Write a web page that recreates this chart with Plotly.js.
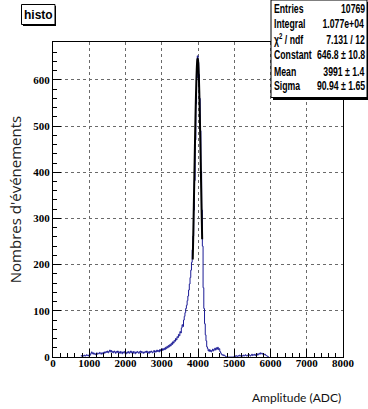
<!DOCTYPE html>
<html>
<head>
<meta charset="utf-8">
<script src="https://cdn.plot.ly/plotly-3.0.1.min.js"></script>
<style>html,body{margin:0;padding:0;background:#fff;}#chart{width:368px;height:409px;}</style>
</head>
<body>
<div id="chart"></div>
<script>
// Histogram: bin width 20 ADC, first bin lower edge 760
const binStart = 760;
const binWidth = 20;
const counts = [
  2,3,1,3,2,4,2,3,5,3,4,2,5,4,8,11,7,9,6,8,            // 760-1140
  5,7,9,6,8,7,10,8,6,9,7,10,8,11,9,12,10,13,9,12,      // 1160-1540
  15,11,14,10,12,9,13,11,8,12,10,13,9,11,8,12,10,7,11,9, // 1560-1940
  12,8,10,7,11,9,12,8,10,13,9,11,8,12,10,7,11,9,12,10, // 1960-2340
  8,11,13,9,12,10,8,11,9,12,10,13,9,11,8,12,10,13,11,9, // 2360-2740
  12,14,10,13,11,15,12,14,11,16,13,17,14,18,15,19,16,21,18,23, // 2760-3140
  20,25,22,27,24,30,27,33,30,36,34,40,37,44,42,49,46,55,52,63, // 3160-3540
  70,66,80,88,96,105,112,122,132,145,158,172,188,205,232,262,318,382,470,548, // 3560-3940
  604,652,638,612,560,490,402,318,240,150,105,72,48,35,22,18,13,16,12,15, // 3960-4340
  11,14,17,13,16,19,15,20,17,21,16,18,12,9,6,4,5,3,4,2, // 4360-4740
  1,0,0,0,0,0,0,0,0,0,0,0,2,1,3,2,1,3,2,4,             // 4760-5140
  2,3,1,3,4,2,3,5,3,2,4,3,5,4,2,4,6,3,5,4,             // 5160-5540
  6,3,5,7,4,6,8,6,9,7,8,6,7,5,6,4,3,2,1,0              // 5560-5940
];
const fitX = [3855,3865,3875,3885,3895,3905,3915,3925,3935,3945,3955,3965,3975,3985,3995,4005,4015,4025,4035,4045,4055,4065,4075,4085,4095,4105,4115];
const fitY = [211,248,287,328,371,414,456,497,535,569,598,621,637,645,646,639,625,603,575,542,505,465,422,379,336,295,255];

const xTicks = [0,1000,2000,3000,4000,5000,6000,7000,8000];
const yTicks = [0,100,200,300,400,500,600];
const statLabels = ["Entries","Integral","\u03c7<sup>2</sup> / ndf","Constant","Mean","Sigma"];
const statValues = ["10769","1.077e+04","7.131 / 12","646.8 \u00b1 10.8","3991 \u00b1 1.4","90.94 \u00b1 1.65"];

const binCenters = counts.map((c,i)=>binStart + binWidth*i + binWidth/2);

const hist = {
  x: binCenters, y: counts, type:'scatter', mode:'lines',
  line:{shape:'hvh', color:'#1c1c96', width:1}, hoverinfo:'skip', showlegend:false
};
const fit = {
  x: fitX, y: fitY, type:'scatter', mode:'lines',
  line:{shape:'spline', color:'#000000', width:2}, hoverinfo:'skip', showlegend:false
};

const tickFont = {family:'"Liberation Serif", "Times New Roman", serif', size:11, color:'#000', weight:'bold'};
const statFont = {family:'"Liberation Sans", Arial, sans-serif', size:13, color:'#000', weight:'bold'};

// plot-area geometry in paper units
const L = 53, R = 343, T = 42, B = 357;
const px = v => (v - L)/(R - L);
const py = v => (B - v)/(B - T);

const annotations = [];
const squeezeIdx = [];
const rowY = [9, 24, 39, 55, 71, 86];
statLabels.forEach((s,i)=>{
  squeezeIdx.push(annotations.length);
  annotations.push({xref:'paper', yref:'paper', x:px(273), y:py(rowY[i]), xanchor:'left', yanchor:'middle', align:'left',
    text:s, showarrow:false, font:statFont, borderpad:0});
  squeezeIdx.push(annotations.length);
  annotations.push({xref:'paper', yref:'paper', x:px(366), y:py(rowY[i]), xanchor:'right', yanchor:'middle', align:'right',
    text:statValues[i], showarrow:false, font:statFont, borderpad:0});
});
annotations.push({xref:'paper', yref:'paper', x:px(38.5), y:py(15), xanchor:'center', yanchor:'middle',
  text:'histo', showarrow:false, font:{family:'"Liberation Sans", Arial, sans-serif', size:12, color:'#000', weight:'bold'}});
annotations.push({xref:'paper', yref:'paper', x:1, y:py(397), xanchor:'right', yanchor:'middle',
  text:'Amplitude (ADC)', showarrow:false, font:{family:'Lato, "Open Sans", sans-serif', size:12, color:'#111'}});

const shapes = [
  // stats box shadow + box
  {type:'rect', xref:'paper', yref:'paper', x0:px(273), x1:px(369), y0:py(100), y1:py(2), fillcolor:'#000', line:{width:0}},
  {type:'rect', xref:'paper', yref:'paper', x0:px(271), x1:px(367), y0:py(97.5), y1:py(0), fillcolor:'#fff', line:{color:'#000', width:1}},
  // title box shadow + box
  {type:'rect', xref:'paper', yref:'paper', x0:px(23), x1:px(56), y0:py(26), y1:py(6), fillcolor:'#000', line:{width:0}},
  {type:'rect', xref:'paper', yref:'paper', x0:px(21.5), x1:px(55), y0:py(24.5), y1:py(4.5), fillcolor:'#fff', line:{color:'#000', width:1}}
];

const layout = {
  width:368, height:409,
  margin:{l:L, r:368-R, t:T, b:409-B, pad:0},
  paper_bgcolor:'#fff', plot_bgcolor:'#fff',
  showlegend:false,
  xaxis:{
    range:[0,8000], tickvals:xTicks, ticktext:xTicks.map(String),
    ticks:'inside', ticklen:8, tickcolor:'#000', tickwidth:1,
    showline:true, mirror:true, linecolor:'#000', linewidth:1,
    showgrid:true, gridcolor:'#6a6a6a', griddash:'dot', gridwidth:1,
    zeroline:false, tickfont:tickFont, ticklabelstandoff:-4,
    minor:{dtick:200, ticks:'inside', ticklen:4, tickcolor:'#000', showgrid:false}
  },
  yaxis:{
    range:[0,682], tickvals:yTicks, ticktext:yTicks.map(String),
    ticks:'inside', ticklen:8, tickcolor:'#000', tickwidth:1,
    showline:true, mirror:true, linecolor:'#000', linewidth:1,
    showgrid:true, gridcolor:'#6a6a6a', griddash:'dot', gridwidth:1,
    zeroline:false, tickfont:tickFont,
    minor:{dtick:20, ticks:'inside', ticklen:4, tickcolor:'#000', showgrid:false},
    title:{text:"Nombres d'événements", font:{family:'"Open Sans", sans-serif', size:15, color:'#222'}, standoff:8}
  },
  annotations:annotations,
  shapes:shapes
};

Plotly.newPlot('chart', [hist, fit], layout, {staticPlot:true, displayModeBar:false}).then(()=>{
  const s = 0.67;
  squeezeIdx.forEach(i=>{
    const t = document.querySelector('g.annotation[data-index="'+i+'"] text.annotation-text');
    if(!t) return;
    const x = parseFloat(t.getAttribute('x')) || 0;
    const prev = t.getAttribute('transform') || '';
    t.setAttribute('transform', prev + ' translate(' + x + ',0) scale(' + s + ',1) translate(' + (-x) + ',0)');
  });
});
</script>
</body>
</html>
